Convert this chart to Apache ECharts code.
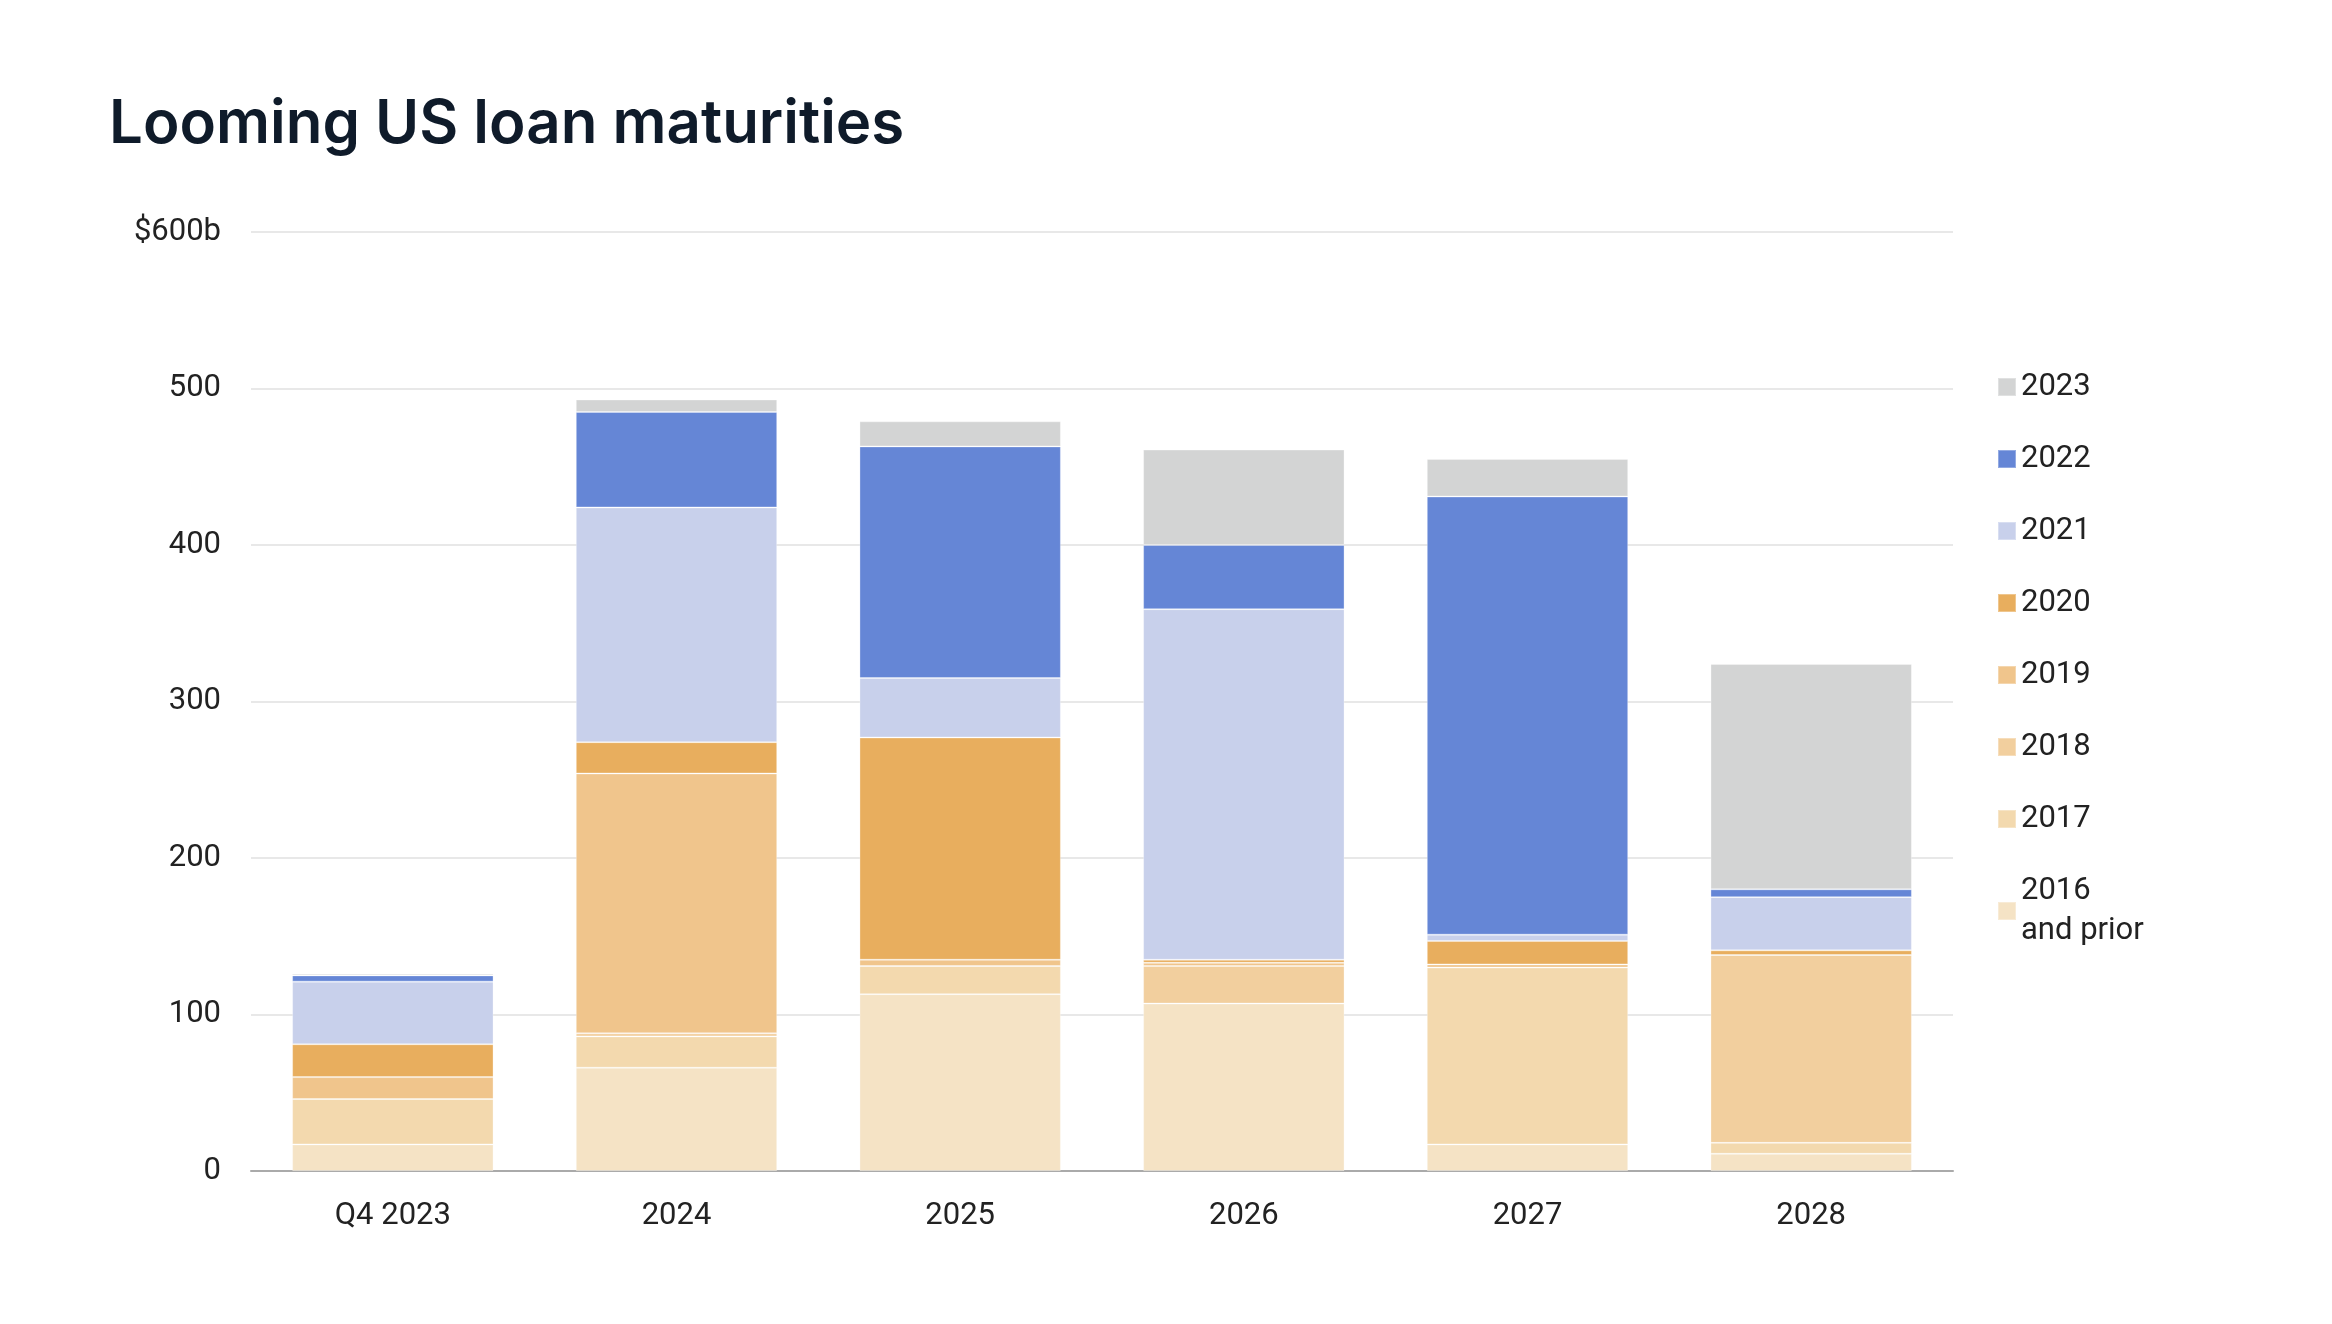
<!DOCTYPE html>
<html>
<head>
<meta charset="utf-8">
<script src="https://cdn.jsdelivr.net/npm/echarts@6/dist/echarts.min.js"></script>
<style>
  html, body { margin: 0; padding: 0; background: #fff; }
  #chart { width: 2332px; height: 1324px; }
</style>
</head>
<body>
<div id="chart"></div>
<script>
const categories = ['Q4 2023', '2024', '2025', '2026', '2027', '2028'];

// $ billions maturing, by loan vintage
const v2016 = [17, 66, 113, 107, 17, 11];
const v2017 = [29, 20, 18, 0, 113, 7];
const v2018 = [0, 2, 0, 24, 0, 120];
const v2019 = [14, 166, 4, 2, 2, 0];
const v2020 = [21, 20, 142, 2, 15, 3];
const v2021 = [40, 150, 38, 224, 4, 34];
const v2022 = [4, 61, 148, 41, 280, 5];
const v2023 = [1, 8, 16, 61, 24, 144];

const series = [
  { name: '2016\nand prior', data: v2016, color: '#f5e3c5' },
  { name: '2017', data: v2017, color: '#f3d9ae' },
  { name: '2018', data: v2018, color: '#f2cf9e' },
  { name: '2019', data: v2019, color: '#f0c58c' },
  { name: '2020', data: v2020, color: '#e8ae5e' },
  { name: '2021', data: v2021, color: '#c8d0eb' },
  { name: '2022', data: v2022, color: '#6586d6' },
  { name: '2023', data: v2023, color: '#d3d4d4' }
];

const chart = echarts.init(document.getElementById('chart'));

chart.setOption({
  backgroundColor: '#fff',
  animation: false,
  textStyle: { fontFamily: 'Roboto' },
  title: {
    text: 'Looming US loan maturities',
    left: 104, top: 90,
    textStyle: { fontFamily: 'Inter', fontSize: 60, fontWeight: 600, color: '#0f1b2a' }
  },
  legend: {
    orient: 'vertical',
    left: 1992, top: 362,
    itemWidth: 18, itemHeight: 18, itemGap: 32,
    icon: 'rect',
    data: series.map(s => s.name).reverse(),
    textStyle: { fontSize: 31, color: '#222', lineHeight: 40 }
  },
  grid: { left: 251, right: 379, top: 232, bottom: 153 },
  xAxis: {
    type: 'category',
    data: categories,
    axisTick: { show: false },
    axisLine: { lineStyle: { color: '#aaa', width: 2 } },
    axisLabel: { fontSize: 31, color: '#222', margin: 30 }
  },
  yAxis: {
    type: 'value',
    min: 0, max: 600, interval: 100,
    axisLabel: {
      fontSize: 31, color: '#222', margin: 30,
      formatter: v => v === 600 ? '$600b' : String(v)
    },
    splitLine: { lineStyle: { color: '#e8e8e8', width: 2 } }
  },
  series: series.map(s => ({
    name: s.name,
    type: 'bar',
    stack: 'total',
    barWidth: '71%',
    data: s.data,
    itemStyle: { color: s.color, borderColor: 'rgba(255,255,255,0.3)', borderWidth: 1 }
  }))
});
</script>
</body>
</html>
